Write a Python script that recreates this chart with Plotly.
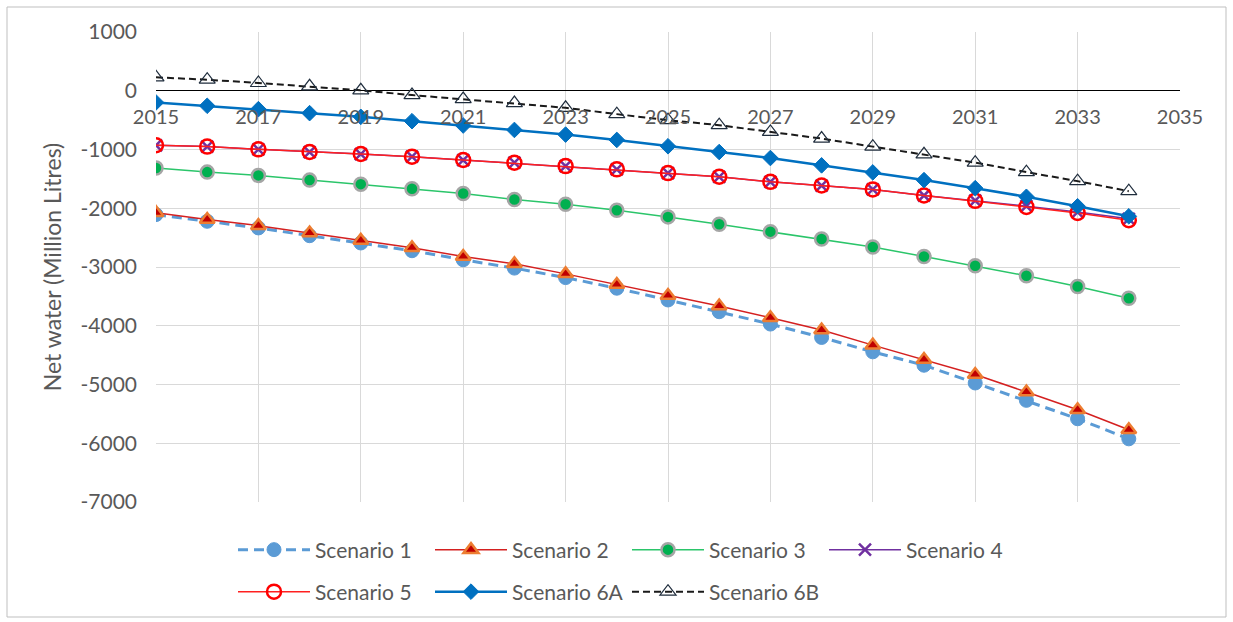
import plotly.graph_objects as go

years = list(range(2015, 2035))

scenario_1 = [-2108, -2222, -2335, -2467, -2591, -2723, -2877, -3019, -3180, -3361,
              -3561, -3761, -3971, -4199, -4444, -4672, -4974, -5270, -5583, -5925]
scenario_2 = [-2075, -2193, -2296, -2421, -2547, -2672, -2821, -2946, -3117, -3299,
              -3487, -3663, -3863, -4073, -4330, -4574, -4831, -5128, -5429, -5771]
scenario_3 = [-1316, -1385, -1441, -1521, -1590, -1669, -1749, -1851, -1932, -2034,
              -2147, -2273, -2398, -2523, -2660, -2821, -2979, -3150, -3333, -3532]
scenario_4 = [-928, -951, -997, -1043, -1077, -1122, -1179, -1225, -1282, -1338,
              -1402, -1464, -1550, -1613, -1680, -1783, -1870, -1965, -2065, -2180]
scenario_5 = [-928, -951, -997, -1043, -1077, -1122, -1179, -1225, -1282, -1338,
              -1402, -1464, -1550, -1613, -1680, -1783, -1874, -1977, -2080, -2205]
scenario_6a = [-199, -256, -313, -381, -444, -518, -592, -667, -746, -837,
               -945, -1043, -1145, -1270, -1390, -1521, -1658, -1805, -1966, -2137]
scenario_6b = [229, 188, 132, 75, 7, -74, -142, -210, -290, -398,
               -501, -586, -701, -814, -951, -1082, -1224, -1385, -1538, -1709]

x_ticks = list(range(2015, 2036, 2))
y_ticks = list(range(-7000, 1001, 1000))

W, H = 1233, 622
L, R, T, B = 156, 53, 32, 120

fig = go.Figure()

fig.add_trace(go.Scatter(
    x=years, y=scenario_1, name="Scenario 1", mode="lines+markers", legend="legend",
    line=dict(color="#5B9BD5", width=3, dash="10px,6px"),
    marker=dict(symbol="circle", size=14, color="#5B9BD5",
                line=dict(color="#5B9BD5", width=1))))
fig.add_trace(go.Scatter(
    x=years, y=scenario_2, name="Scenario 2", mode="lines+markers", legend="legend",
    line=dict(color="#D42020", width=1.5),
    marker=dict(symbol="triangle-up", size=13, color="#C00000",
                line=dict(color="#ED7D31", width=2.5))))
fig.add_trace(go.Scatter(
    x=years, y=scenario_3, name="Scenario 3", mode="lines+markers", legend="legend",
    line=dict(color="#2BC56A", width=1.5),
    marker=dict(symbol="circle", size=13, color="#00B050",
                line=dict(color="#A5A5A5", width=2.5))))
fig.add_trace(go.Scatter(
    x=years, y=scenario_4, name="Scenario 4", mode="lines+markers", legend="legend",
    line=dict(color="#7030A0", width=1.5),
    marker=dict(symbol="x-thin", size=12, color="#7030A0",
                line=dict(color="#7030A0", width=2.5))))
fig.add_trace(go.Scatter(
    x=years, y=scenario_5, name="Scenario 5", mode="lines+markers", legend="legend2",
    line=dict(color="#FF2020", width=1.5),
    marker=dict(symbol="circle-open", size=14, color="#FF0000",
                line=dict(color="#FF0000", width=2.5))))
fig.add_trace(go.Scatter(
    x=years, y=scenario_6a, name="Scenario 6A", mode="lines+markers", legend="legend2",
    line=dict(color="#0070C0", width=2.5),
    marker=dict(symbol="diamond", size=12, color="#0070C0",
                line=dict(color="#0070C0", width=1))))
fig.add_trace(go.Scatter(
    x=years, y=scenario_6b, name="Scenario 6B", mode="lines+markers", legend="legend2",
    line=dict(color="#1A1A1A", width=2, dash="7px,4px"),
    marker=dict(symbol="triangle-up-open", size=14, color="#1F2D3D",
                line=dict(color="#1F2D3D", width=1.2))))

def px_to_paper_x(px):
    return (px - L) / (W - L - R)

def px_to_paper_y(py):
    return (H - B - py) / (H - T - B)

# outer chart frame
fig.add_shape(type="rect", xref="paper", yref="paper", layer="below",
              x0=px_to_paper_x(7), x1=px_to_paper_x(1226),
              y0=px_to_paper_y(617), y1=px_to_paper_y(7),
              line=dict(color="#BFBFBF", width=1), fillcolor="rgba(0,0,0,0)")

font_color = "#595959"
legend_style = dict(orientation="h", xanchor="left", yanchor="middle",
                    font=dict(size=21, color=font_color),
                    itemwidth=72, entrywidth=110, entrywidthmode="pixels",
                    bgcolor="rgba(0,0,0,0)")

fig.update_layout(
    width=W, height=H,
    margin=dict(l=L, r=R, t=T, b=B, pad=0, autoexpand=False),
    paper_bgcolor="white", plot_bgcolor="white",
    font=dict(family="Lato", size=20, color=font_color),
    showlegend=True,
    legend=dict(x=px_to_paper_x(233), y=px_to_paper_y(550), **legend_style),
    legend2=dict(x=px_to_paper_x(233), y=px_to_paper_y(592), **legend_style),
    xaxis=dict(range=[2015, 2035], tickmode="array", tickvals=x_ticks,
               ticktext=[str(v) for v in x_ticks],
               showgrid=True, gridcolor="#D9D9D9", gridwidth=1,
               zeroline=False, showline=False,
               anchor="free", position=7 / 8, side="bottom",
               ticks="", ticklabelstandoff=12,
               tickfont=dict(size=20, color=font_color)),
    yaxis=dict(range=[-7000, 1000], tickmode="array", tickvals=y_ticks,
               ticktext=[str(v) for v in y_ticks],
               showgrid=True, gridcolor="#D9D9D9", gridwidth=1,
               zeroline=True, zerolinecolor="#000000", zerolinewidth=1.2,
               showline=False, ticks="", ticklabelstandoff=18,
               tickfont=dict(size=21, color=font_color),
               title=dict(text="Net water (Million Litres)", standoff=12,
                          font=dict(size=23, color=font_color))),
)

fig.write_html("out.html")
